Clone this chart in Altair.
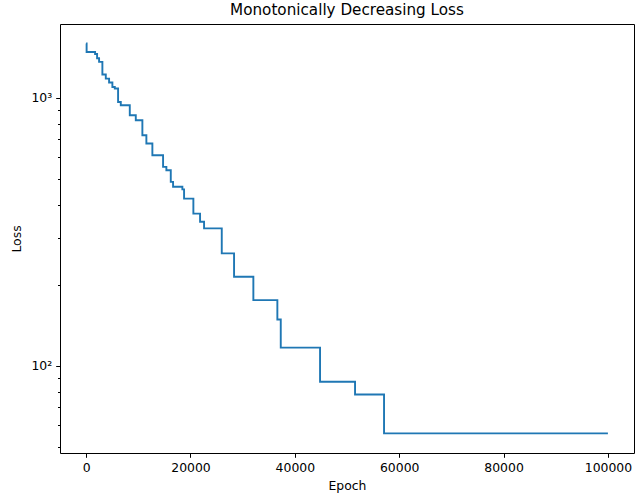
import altair as alt
import pandas as pd

# Best loss seen so far, recorded at each epoch where it improved
epochs = [0, 100, 1724, 2107, 2491, 3123, 3775, 4407, 5039, 5499, 6131, 6649,
          8373, 9523, 10787, 11553, 12703, 14753, 15385, 16228, 16669, 18451,
          18777, 20559, 21842, 22609, 26000, 28357, 32055, 36654, 37305, 44836,
          51542, 57098, 100000]
losses = [1596, 1484, 1459, 1406, 1363, 1223, 1181, 1142, 1099, 1084, 966, 939,
          862, 826, 726, 676, 611, 553, 537, 486, 466, 456,
          421, 370, 345, 326, 263, 215, 176, 149, 117, 87.2,
          78.2, 56.0, 56.0]

x_ticks = [0, 20000, 40000, 60000, 80000, 100000]
y_ticks = [50, 60, 70, 80, 90, 100, 200, 300, 400, 500, 600, 700, 800, 900, 1000]

df = pd.DataFrame({"epoch": epochs, "loss": losses})

FONT = "DejaVu Sans"

line = alt.Chart(df).mark_line(
    interpolate="step-after", color="#1f77b4", strokeWidth=1.9, clip=True
).encode(
    x=alt.X(
        "epoch:Q",
        scale=alt.Scale(domain=[-5000, 105000], nice=False, zero=False),
        axis=alt.Axis(
            values=x_ticks, format="d", title="Epoch", grid=False, domain=False,
            tickSize=4.3, tickWidth=1, tickColor="black",
            labelPadding=4, labelFontSize=12.4, labelColor="black", labelFont=FONT,
            titleFontSize=12.4, titleFont=FONT, titleColor="black",
            titleFontWeight="normal", titlePadding=6,
        ),
    ),
    y=alt.Y(
        "loss:Q",
        scale=alt.Scale(type="log", domain=[47.3, 1888], nice=False),
        axis=alt.Axis(
            values=y_ticks, title="Loss", grid=False, domain=False,
            labelExpr="datum.value == 100 ? '10²' : (datum.value == 1000 ? '10³' : '')",
            tickSize={"condition": {"test": "datum.value == 100 || datum.value == 1000",
                                    "value": 4.3}, "value": 2.5},
            tickWidth=1, tickColor="black",
            labelPadding=4, labelFontSize=12.4, labelColor="black", labelFont=FONT,
            titleFontSize=12.4, titleFont=FONT, titleColor="black",
            titleFontWeight="normal", titlePadding=7,
        ),
    ),
).properties(
    width=574,
    height=429,
    title=alt.Title(
        "Monotonically Decreasing Loss", font=FONT, fontSize=15.2,
        fontWeight="normal", color="black", anchor="middle", offset=6,
    ),
)

chart = line.configure_view(stroke="black", strokeWidth=1).properties(
    autosize=alt.AutoSizeParams(type="none"),
    padding={"left": 60, "top": 24, "right": 1, "bottom": 46},
    background="white",
)

chart.save("out.html", embed_options={"renderer": "svg", "actions": False})
